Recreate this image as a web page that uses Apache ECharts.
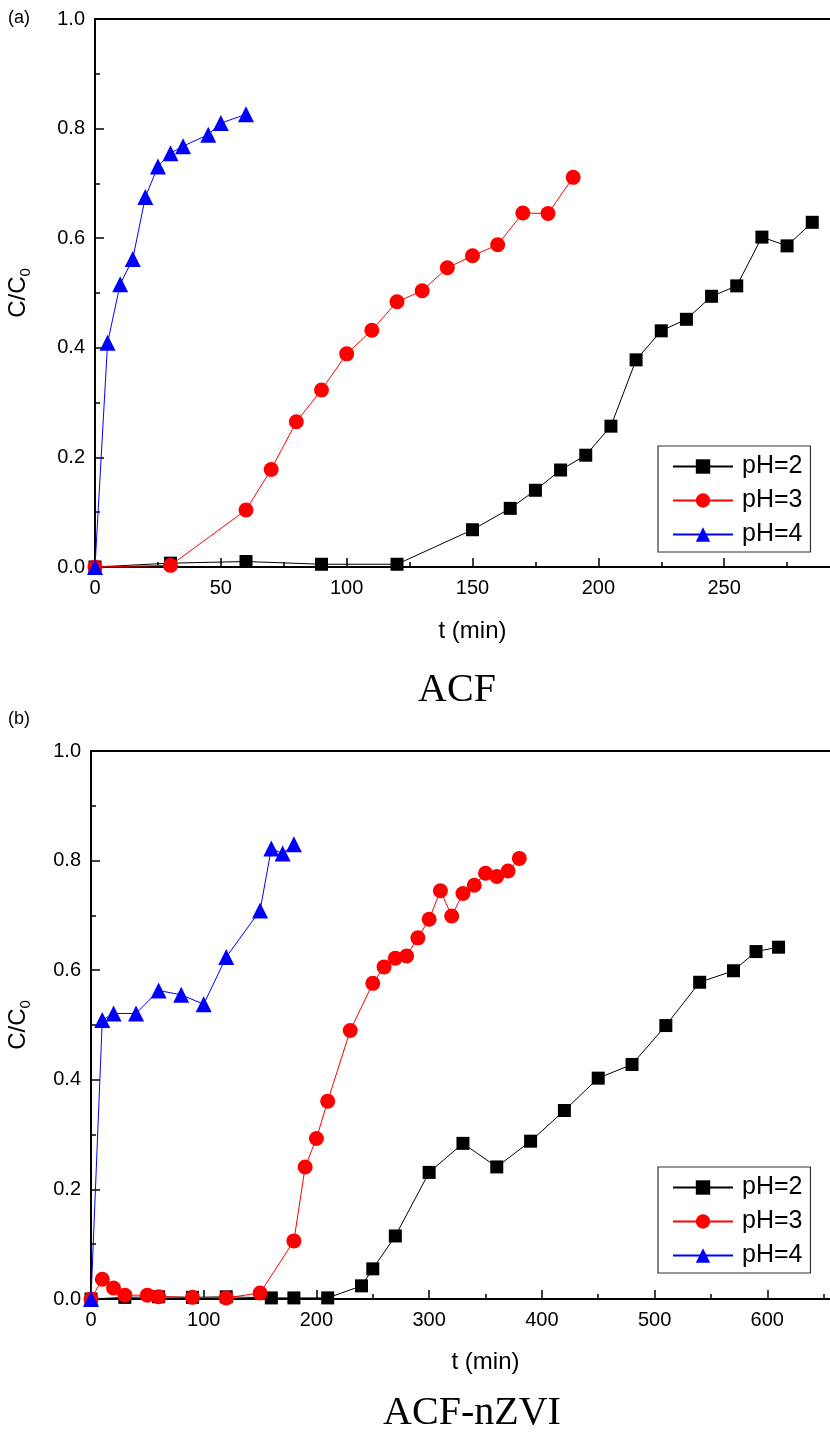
<!DOCTYPE html>
<html>
<head>
<meta charset="utf-8">
<script src="https://cdn.jsdelivr.net/npm/echarts@6/dist/echarts.min.js"></script>
<style>html,body{margin:0;padding:0;background:#fff}#c{width:830px;height:1437px}</style>
</head>
<body>
<div id="c"></div>
<script>
// ---- Panel (a) ACF ----
const aTimePH2 = [0,30,60,90,120,150,165,175,185,195,205,215,225,235,245,255,265,275,285];
const aValPH2  = [0,0.007,0.010,0.005,0.005,0.068,0.107,0.140,0.177,0.204,0.257,0.378,0.431,0.452,0.494,0.513,0.602,0.586,0.629];
const aTimePH3 = [0,30,60,70,80,90,100,110,120,130,140,150,160,170,180,190];
const aValPH3  = [0,0.003,0.104,0.178,0.265,0.323,0.389,0.432,0.484,0.504,0.546,0.568,0.588,0.646,0.645,0.711];
const aTimePH4 = [0,5,10,15,20,25,30,35,45,50,60];
const aValPH4  = [0,0.409,0.516,0.562,0.675,0.731,0.755,0.768,0.789,0.810,0.826];
// ---- Panel (b) ACF-nZVI ----
const bTimePH2 = [0,30,60,90,120,160,180,210,240,250,270,300,330,360,390,420,450,480,510,540,570,590,610];
const bValPH2  = [0,0.003,0.004,0.003,0.004,0.002,0.002,0.002,0.024,0.055,0.115,0.231,0.284,0.241,0.288,0.344,0.403,0.428,0.499,0.578,0.599,0.634,0.642];
const bTimePH3 = [0,10,20,30,50,60,90,120,150,180,190,200,210,230,250,260,270,280,290,300,310,320,330,340,350,360,370,380];
const bValPH3  = [0,0.036,0.020,0.007,0.007,0.004,0.003,0.002,0.011,0.106,0.241,0.293,0.361,0.490,0.576,0.606,0.622,0.626,0.659,0.693,0.745,0.699,0.740,0.755,0.777,0.771,0.781,0.804];
const bTimePH4 = [0,10,20,40,60,80,100,120,150,160,170,180];
const bValPH4  = [0,0.509,0.521,0.521,0.563,0.555,0.538,0.624,0.709,0.822,0.813,0.830];

const seriesNames = ['pH=2','pH=3','pH=4'];
const seriesColors = ['#000000','#ff0000','#0000ff'];
const seriesSymbols = ['rect','circle','triangle'];
const symbolSizes = [13,15,16];
const yTicks = [0,0.2,0.4,0.6,0.8,1.0];

const FONT = 'Liberation Sans, Arial, sans-serif';
const zip = (t, v) => t.map((x, i) => [x, v[i]]);

function xAxis(gridIndex, max, interval, nameGap) {
  return {
    gridIndex, type: 'value', min: 0, max, interval,
    name: 't (min)', nameLocation: 'middle', nameGap,
    nameTextStyle: {fontSize: 24, color: '#000', fontFamily: FONT},
    axisLine: {lineStyle: {color: '#000', width: 2}},
    axisTick: {inside: true, length: 9, lineStyle: {color: '#000', width: 1.5}},
    minorTick: {show: true, splitNumber: 2, length: 5, lineStyle: {color: '#000', width: 1.5}},
    axisLabel: {fontSize: 20, color: '#000', fontFamily: FONT, margin: 11},
    splitLine: {show: false}
  };
}
function yAxis(gridIndex, nameGap) {
  return {
    gridIndex, type: 'value', min: yTicks[0], max: yTicks[yTicks.length-1], interval: 0.2,
    name: 'C/C{sub|0}', nameLocation: 'middle', nameGap, nameRotate: 90,
    nameTextStyle: {fontSize: 24, color: '#000', fontFamily: FONT, lineHeight: 30,
      rich: {sub: {fontSize: 15, color: '#000', fontFamily: FONT, lineHeight: 30, verticalAlign: 'bottom', padding: [12,0,0,0]}}},
    axisLine: {lineStyle: {color: '#000', width: 2}},
    axisTick: {inside: true, length: 9, lineStyle: {color: '#000', width: 1.5}},
    minorTick: {show: true, splitNumber: 2, length: 5, lineStyle: {color: '#000', width: 1.5}},
    axisLabel: {fontSize: 20, color: '#000', fontFamily: FONT, margin: 10, formatter: v => v.toFixed(1)},
    splitLine: {show: false}
  };
}
function mkSeries(idx, times, vals, k) {
  return {
    name: seriesNames[k], type: 'line', xAxisIndex: idx, yAxisIndex: idx,
    data: zip(times, vals), symbol: seriesSymbols[k], symbolSize: symbolSizes[k],
    showAllSymbol: true,
    itemStyle: {color: seriesColors[k]},
    lineStyle: {color: seriesColors[k], width: 1},
    animation: false, z: 2 + k
  };
}
function legend(top) {
  return {
    data: seriesNames, orient: 'vertical', left: 658, top,
    itemWidth: 60, itemHeight: 18, itemGap: 9,
    padding: [8, 8, 5, 14],
    borderColor: '#333', borderWidth: 1.2, backgroundColor: '#fff',
    textStyle: {fontSize: 25, color: '#000', fontFamily: FONT, lineHeight: 24, padding: [0,0,0,4]},
    selectedMode: false
  };
}

const chart = echarts.init(document.getElementById('c'), null, {renderer: 'canvas'});
chart.setOption({
  animation: false,
  backgroundColor: '#fff',
  grid: [
    {left: 95, top: 19, height: 548, right: -20, show: true, borderColor: '#000', borderWidth: 2, containLabel: false, outerBoundsMode: 'none'},
    {left: 91, top: 751, height: 548, right: -50, show: true, borderColor: '#000', borderWidth: 2, containLabel: false, outerBoundsMode: 'none'}
  ],
  xAxis: [xAxis(0, 300, 50, 52), xAxis(1, 700, 100, 51)],
  yAxis: [yAxis(0, 62), yAxis(1, 58)],
  legend: [legend(446), legend(1167)],
  series: [
    mkSeries(0, aTimePH2, aValPH2, 0),
    mkSeries(0, aTimePH3, aValPH3, 1),
    mkSeries(0, aTimePH4, aValPH4, 2),
    mkSeries(1, bTimePH2, bValPH2, 0),
    mkSeries(1, bTimePH3, bValPH3, 1),
    mkSeries(1, bTimePH4, bValPH4, 2)
  ],
  graphic: [
    {type: 'text', left: 8, top: 9, style: {text: '(a)', fontSize: 18, fill: '#000', fontFamily: FONT}},
    {type: 'text', left: 8, top: 710, style: {text: '(b)', fontSize: 18, fill: '#000', fontFamily: FONT}},
    {type: 'text', x: 457, y: 690, style: {text: 'ACF', fontSize: 40, fill: '#000', fontFamily: 'Liberation Serif, Times New Roman, serif', textAlign: 'center', textVerticalAlign: 'middle'}},
    {type: 'text', x: 472, y: 1413, style: {text: 'ACF-nZVI', fontSize: 40, fill: '#000', fontFamily: 'Liberation Serif, Times New Roman, serif', textAlign: 'center', textVerticalAlign: 'middle'}}
  ]
});
</script>
</body>
</html>
